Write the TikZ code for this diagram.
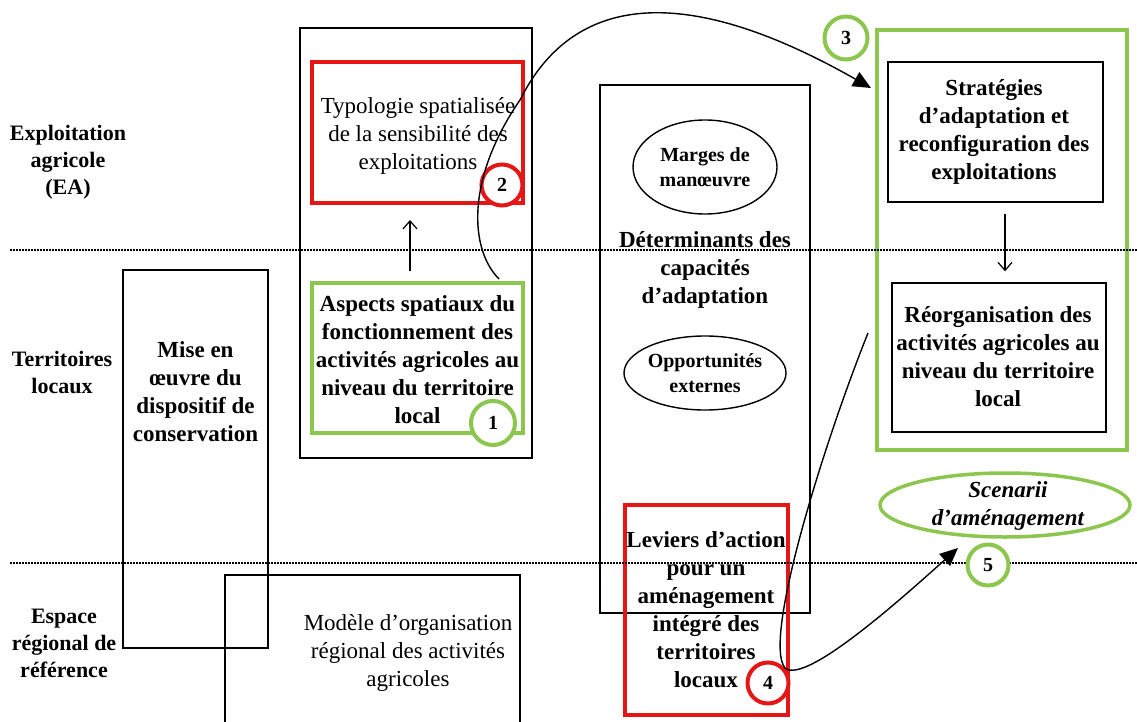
\documentclass[tikz,border=0pt]{standalone}
\usepackage{fontspec}
\setmainfont{Liberation Serif}
\usetikzlibrary{arrows.meta,shapes.geometric,calc}
\definecolor{myred}{RGB}{228,22,22}
\definecolor{mygreen}{RGB}{140,198,78}
\begin{document}
\begin{tikzpicture}[x=1pt,y=-1pt,
 bx/.style={draw=black,line width=1.4pt,rectangle,inner sep=0pt},
 rbx/.style={draw=myred,line width=4pt,rectangle,inner sep=0pt},
 gbx/.style={draw=mygreen,line width=4pt,rectangle,inner sep=0pt},
 btxt/.style={align=center,inner sep=0pt,font=\fontsize{23}{28}\selectfont\bfseries},
 rtxt/.style={align=center,inner sep=0pt,font=\fontsize{23}{28}\selectfont},
 lbl/.style={align=center,inner sep=0pt,font=\fontsize{22}{27}\selectfont\bfseries},
 ell/.style={ellipse,draw=black,line width=1.4pt,align=center,inner sep=0pt,font=\fontsize{20}{25}\selectfont\bfseries},
 num/.style={circle,line width=4pt,fill=white,minimum size=41pt,inner sep=0pt,font=\fontsize{20}{20}\selectfont\bfseries},
 dotln/.style={line width=1.5pt,dash pattern=on 1.5pt off 1.5pt},
 conn/.style={line width=1.4pt,-{Triangle[length=18pt,width=16pt]}},
 sarr/.style={line width=1.2pt,-{Straight Barb[length=8pt,width=14pt]}}
]
\useasboundingbox (0,0) rectangle (1137,722);
\clip (0,0) rectangle (1137,722);
\fill[white] (0,0) rectangle (1137,722);

% boxes
\node[bx,minimum width=232pt,minimum height=430pt] (outerL) at (416,243) {};
\node[rbx,minimum width=211pt,minimum height=141pt] (typo) at (417.5,132.5) {};
\node[gbx,minimum width=211pt,minimum height=150pt] (aspects) at (417.5,358) {};
\node[bx,minimum width=145pt,minimum height=378pt] (mise) at (195.5,459) {};
\node[bx,minimum width=295pt,minimum height=170pt] (modele) at (372.5,660) {};
\node[bx,minimum width=210pt,minimum height=528pt] (central) at (705,349) {};
\node[rbx,minimum width=163pt,minimum height=210pt] (leviers) at (706.5,610) {};
\node[gbx,minimum width=250pt,minimum height=420pt] (gbig) at (1002,240) {};
\node[bx,minimum width=215pt,minimum height=140pt] (strat) at (995.5,132) {};
\node[bx,minimum width=214pt,minimum height=149pt] (reorg) at (999,357.5) {};
\node[ellipse,draw=mygreen,line width=3.5pt,minimum width=250pt,minimum height=64pt,inner sep=0pt] (scen) at (1005,505) {};

% dotted separators
\draw[dotln] (10,250) -- (1137,250);
\draw[dotln] (10,563) -- (1137,563);

% texts
\node[lbl] (lEA) at (68,162) {Exploitation\\agricole\\(EA)};
\node[lbl] (lTL) at (62,372) {Territoires\\locaux};
\node[lbl] (lER) at (64,643) {Espace\\régional de\\référence};
\node[btxt] (miseT) at (195.5,392) {Mise en\\œuvre du\\dispositif de\\conservation};
\node[rtxt] (typoT) at (418,136) {Typologie spatialisée\\de la sensibilité des\\exploitations};
\node[btxt] (aspT) at (417.5,360) {Aspects spatiaux du\\fonctionnement des\\activités agricoles au\\niveau du territoire\\local};
\node[ell,minimum width=144pt,minimum height=94pt] (marges) at (705,167) {Marges de\\manœuvre};
\node[btxt] (detT) at (705,270) {Déterminants des\\capacités\\d’adaptation};
\node[ell,minimum width=162pt,minimum height=74pt] (opp) at (705,373) {Opportunités\\externes};
\node[btxt] (levT) at (706,610) {Leviers d’action\\pour un\\aménagement\\intégré des\\territoires\\locaux};
\node[btxt] (stratT) at (994,132) {Stratégies\\d’adaptation et\\reconfiguration des\\exploitations};
\node[btxt] (reorgT) at (998,357) {Réorganisation des\\activités agricoles au\\niveau du territoire\\local};
\node[rtxt] (modT) at (408,653) {Modèle d’organisation\\régional des activités\\agricoles};
\node[align=center,inner sep=0pt,font=\fontsize{23}{28}\selectfont\bfseries\itshape] (scenT) at (1008,506) {Scenarii\\d’aménagement};

% numbered circles
\node[num,draw=myred] (n2) at (502,185) {2};
\node[num,draw=mygreen,minimum size=44pt] (n1) at (493,423) {1};
\node[num,draw=mygreen,minimum size=43pt] (n3) at (846,38) {3};
\node[num,draw=myred] (n4) at (768,683) {4};
\node[num,draw=mygreen] (n5) at (988,565) {5};

% arrows
\draw[sarr] ([xshift=-7.5pt,yshift=10pt]aspects.north) -- ([xshift=-7.5pt,yshift=-15pt]typo.south);
\draw[sarr] ([xshift=9.5pt,yshift=-11pt]strat.south) -- ([xshift=6pt,yshift=11pt]reorg.north);

\coordinate (s1) at ($(aspects.north east)+(-26,-2)$);
\coordinate (e1) at ($(gbig.north west)+(-4,60)$);
\draw[conn] (s1) .. controls (470,250) and (465,180) .. (520,100) .. controls (575,-10) and (690,-15) .. (e1);

\coordinate (s2) at ($(gbig.north west)+(-7,305)$);
\coordinate (e2) at ($(n5.center)+(-30,-17)$);
\draw[conn] (s2) .. controls (825,440) and (762,640) .. (785,668) .. controls (805,685) and (900,600) .. (e2);
\end{tikzpicture}
\end{document}
